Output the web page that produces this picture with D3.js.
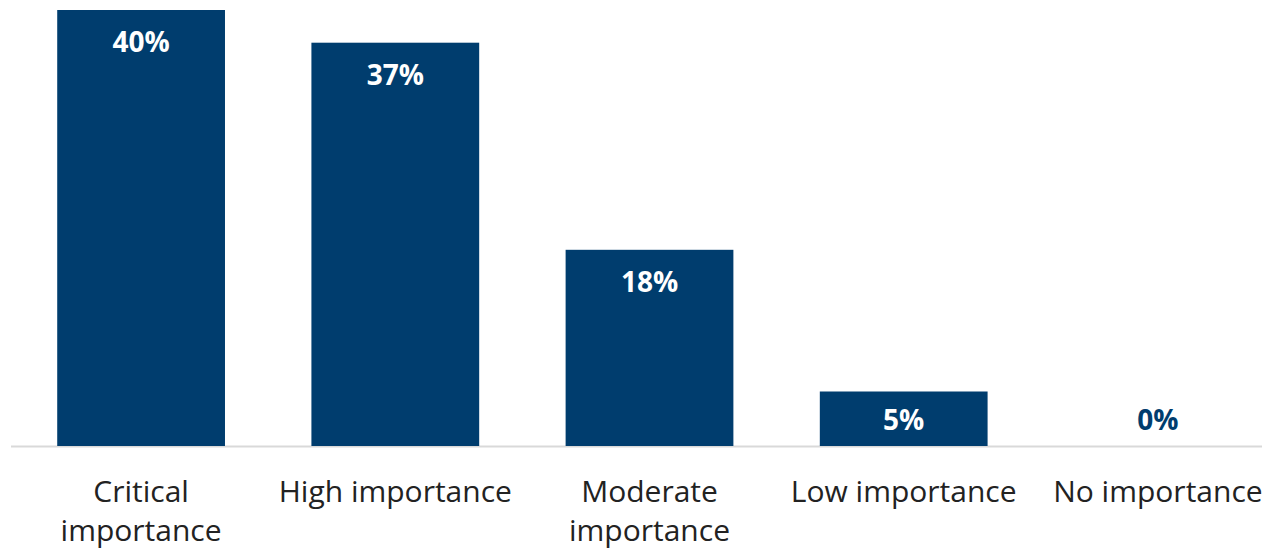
<!DOCTYPE html>
<html>
<head>
<meta charset="utf-8">
<script src="https://cdn.jsdelivr.net/npm/d3@7/dist/d3.min.js"></script>
<style>
  html, body { margin: 0; padding: 0; background: #fff; }
  svg { display: block; font-family: "Open Sans", sans-serif; }
</style>
</head>
<body>
<svg id="chart" width="1268" height="549"></svg>
<script>
// Share of respondents by rated importance
const categories = ["Critical importance", "High importance", "Moderate importance", "Low importance", "No importance"];
const categoryLines = [["Critical", "importance"], ["High importance"], ["Moderate", "importance"], ["Low importance"], ["No importance"]];
const values = [40, 37, 18, 5, 0];
const valueLabels = ["40%", "37%", "18%", "5%", "0%"];

const barColor = "#003d6e";
const svg = d3.select("#chart");

const baselineY = 446;
const x = d3.scaleBand().domain(categories).range([14, 1285]).paddingInner(0.34).paddingOuter(0.17);
const y = d3.scaleLinear().domain([0, 40]).range([baselineY, 10]);

// Baseline
svg.append("line")
  .attr("x1", 11).attr("x2", 1262)
  .attr("y1", baselineY + 0.5).attr("y2", baselineY + 0.5)
  .attr("stroke", "#d9d9d9").attr("stroke-width", 2);

// Bars
svg.selectAll("rect.bar")
  .data(categories)
  .join("rect")
  .attr("class", "bar")
  .attr("x", d => x(d))
  .attr("width", x.bandwidth())
  .attr("y", (d, i) => y(values[i]))
  .attr("height", (d, i) => baselineY - y(values[i]))
  .attr("fill", barColor);

// Value labels inside the top of each bar (just above the axis for short bars)
svg.selectAll("text.value")
  .data(categories)
  .join("text")
  .attr("class", "value")
  .attr("x", d => x(d) + x.bandwidth() / 2)
  .attr("y", (d, i) => values[i] > 5 ? y(values[i]) + 42 : baselineY - 16)
  .attr("text-anchor", "middle")
  .attr("font-size", 28)
  .attr("font-weight", 700)
  .attr("fill", (d, i) => values[i] > 0 ? "#fff" : barColor)
  .text((d, i) => valueLabels[i]);

// Category labels
const cat = svg.selectAll("g.cat")
  .data(categories)
  .join("g")
  .attr("class", "cat")
  .attr("transform", d => `translate(${x(d) + x.bandwidth() / 2},0)`);

cat.selectAll("text")
  .data((d, i) => categoryLines[i])
  .join("text")
  .attr("x", 0)
  .attr("y", (d, j) => 502 + j * 39)
  .attr("text-anchor", "middle")
  .attr("font-size", 30)
  .attr("fill", "#222")
  .text(d => d);
</script>
</body>
</html>
